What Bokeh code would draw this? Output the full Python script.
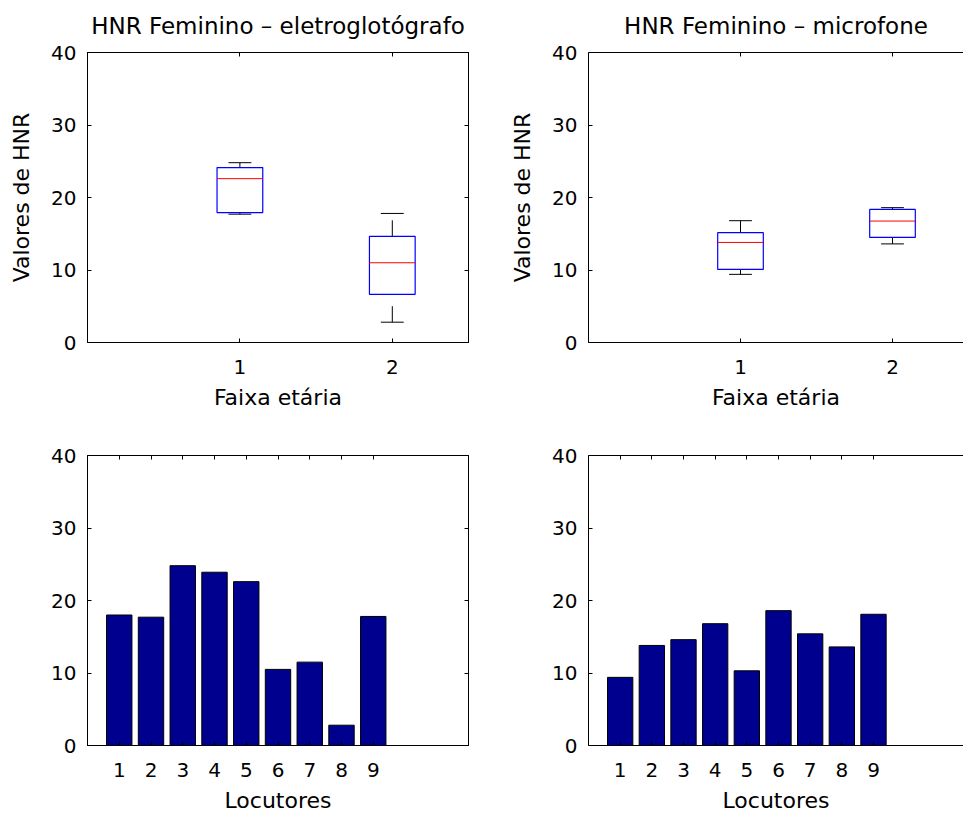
import numpy as np
from bokeh.plotting import figure
from bokeh.models import Range1d, FixedTicker, LinearAxis, CustomLabelingPolicy
from bokeh.layouts import gridplot
from bokeh.embed import file_html
from bokeh.resources import INLINE

# ---------------- data ----------------
locutores = [1, 2, 3, 4, 5, 6, 7, 8, 9]
faixa_etaria = [1, 1, 1, 1, 1, 2, 2, 2, 2]
hnr_egg = [18.0, 17.7, 24.8, 23.9, 22.6, 10.5, 11.5, 2.8, 17.8]
hnr_mic = [9.4, 13.8, 14.6, 16.8, 10.3, 18.6, 15.4, 13.6, 18.1]
grupos = [1, 2]
y_ticks = [0, 10, 20, 30, 40]

titulos = ["HNR Feminino \u2013 eletroglot\u00f3grafo", "HNR Feminino \u2013 microfone"]
rotulo_y = "Valores de HNR"
rotulo_x_box = "Faixa et\u00e1ria"
rotulo_x_bar = "Locutores"

FONT = "DejaVu Sans"
TICK_FS = "20px"
LABEL_FS = "22px"
TITLE_FS = "23px"


def prctile(vals, p):
    s = np.sort(np.asarray(vals, dtype=float))
    n = len(s)
    pos = n * p / 100.0 + 0.5
    if pos < 1:
        return s[0]
    if pos >= n:
        return s[-1]
    i = int(np.floor(pos))
    f = pos - i
    return s[i - 1] + f * (s[i] - s[i - 1])


def box_stats(values, groups):
    out = {"x": [], "q1": [], "med": [], "q3": [], "lo": [], "hi": []}
    for g in grupos:
        v = np.array([a for a, b in zip(values, groups) if b == g])
        q1, med, q3 = prctile(v, 25), prctile(v, 50), prctile(v, 75)
        iqr = q3 - q1
        hi = v[v <= q3 + 1.5 * iqr].max()
        lo = v[v >= q1 - 1.5 * iqr].min()
        for k, val in zip(["x", "q1", "med", "q3", "lo", "hi"], [g, q1, med, q3, lo, hi]):
            out[k].append(val)
    return out


NO_LABELS = CustomLabelingPolicy(code="""
const all = [...indices]
for (const i of all) indices.unset(i)
return indices
""")


def style_axis(ax, show_labels=True):
    ax.major_tick_in = 4
    ax.major_tick_out = 0
    ax.minor_tick_line_color = None
    ax.axis_line_color = "black"
    ax.axis_line_width = 1
    ax.major_tick_line_color = "black"
    ax.major_label_text_font = FONT
    ax.major_label_text_color = "black"
    ax.major_label_text_font_size = TICK_FS
    ax.axis_label_text_font = FONT
    ax.axis_label_text_font_size = LABEL_FS
    ax.axis_label_text_font_style = "normal"
    ax.axis_label_text_color = "black"
    if not show_labels:
        ax.major_label_policy = NO_LABELS
        ax.major_label_text_font_size = "1px"
        ax.major_label_standoff = 0


def make_fig(width, height, bl, br, bt, bb, x_end, xticks, left_col, title=None):
    kw = {}
    if title is not None:
        kw["title"] = title
    p = figure(width=width, height=height, x_range=Range1d(0, x_end), y_range=Range1d(0, 40),
               output_backend="svg", toolbar_location=None,
               min_border_left=bl, min_border_right=br, min_border_top=bt, min_border_bottom=bb,
               **kw)
    p.xgrid.visible = False
    p.ygrid.visible = False
    p.background_fill_color = "white"
    p.border_fill_color = "white"
    if left_col:
        p.outline_line_color = "black"
        p.outline_line_width = 1
    else:
        p.outline_line_color = None
    xb = p.below[0]
    yl = p.left[0]
    xb.ticker = FixedTicker(ticks=xticks)
    yl.ticker = FixedTicker(ticks=y_ticks)
    style_axis(xb)
    style_axis(yl)
    xb.major_label_standoff = 17
    yl.major_label_standoff = 11
    top = LinearAxis(ticker=FixedTicker(ticks=xticks))
    style_axis(top, show_labels=False)
    p.add_layout(top, "above")
    if left_col:
        right = LinearAxis(ticker=FixedTicker(ticks=y_ticks))
        style_axis(right, show_labels=False)
        p.add_layout(right, "right")
    if title is not None:
        p.title.text_font = FONT
        p.title.text_font_size = TITLE_FS
        p.title.text_font_style = "normal"
        p.title.align = "center"
        p.title.text_color = "black"
        p.title.standoff = 19
    return p, xb, yl


def draw_box(p, values):
    st = box_stats(values, faixa_etaria)
    bw = 0.3
    cw = 0.15
    x = np.array(st["x"], dtype=float)
    # whiskers (drawn from lower to higher value, dashed)
    p.segment(x0=x, y0=st["q3"], x1=x, y1=st["hi"], line_color="black", line_width=1, line_dash="16 12")
    p.segment(x0=x, y0=st["lo"], x1=x, y1=st["q1"], line_color="black", line_width=1, line_dash="16 12")
    # caps
    p.segment(x0=x - cw / 2, y0=st["hi"], x1=x + cw / 2, y1=st["hi"], line_color="black", line_width=1)
    p.segment(x0=x - cw / 2, y0=st["lo"], x1=x + cw / 2, y1=st["lo"], line_color="black", line_width=1)
    # box
    p.quad(left=x - bw / 2, right=x + bw / 2, bottom=st["q1"], top=st["q3"],
           fill_color=None, line_color="#0000FF", line_width=1.2)
    # median
    p.segment(x0=x - bw / 2, y0=st["med"], x1=x + bw / 2, y1=st["med"], line_color="#FF0000", line_width=1)


def draw_bars(p, values):
    p.vbar(x=locutores, top=values, bottom=0, width=0.8, fill_color="#00008F",
           line_color="black", line_width=1)


# top row
p1, xb1, yl1 = make_fig(480, 420, 87, 12, 52, 78, 2.5, grupos, True, titulos[0])
p2, xb2, yl2 = make_fig(483, 420, 108, 0, 52, 78, 2.5 * 375 / 380, grupos, False, titulos[1])
for p, xb, yl, vals in [(p1, xb1, yl1, hnr_egg), (p2, xb2, yl2, hnr_mic)]:
    draw_box(p, vals)
    xb.axis_label = rotulo_x_box
    xb.axis_label_standoff = 8
    yl.axis_label = rotulo_y
    yl.axis_label_standoff = 14

# bottom row
p3, xb3, yl3 = make_fig(480, 396, 87, 12, 35, 71, 12, locutores, True)
p4, xb4, yl4 = make_fig(483, 396, 108, 0, 35, 71, 12 * 375 / 380, locutores, False)
for p, xb, vals in [(p3, xb3, hnr_egg), (p4, xb4, hnr_mic)]:
    draw_bars(p, vals)
    xb.axis_label = rotulo_x_bar
    xb.axis_label_standoff = 8

grid = gridplot([[p1, p2], [p3, p4]], toolbar_location=None)

with open("out.html", "w") as f:
    f.write(file_html(grid, INLINE))
